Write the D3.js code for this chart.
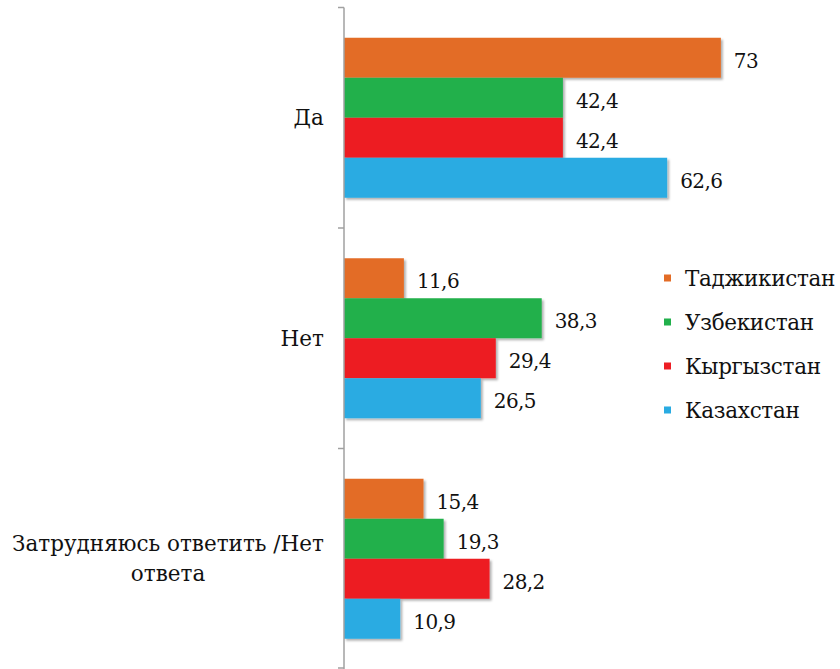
<!DOCTYPE html>
<html>
<head>
<meta charset="utf-8">
<script src="https://cdn.jsdelivr.net/npm/d3@7"></script>
<style>
  body { margin: 0; background: #fff; }
  svg text { font-family: "DejaVu Serif", serif; fill: #111; }
</style>
</head>
<body>
<div id="chart"></div>
<script>
// categories top to bottom
const categories = ['Да', 'Нет', 'Затрудняюсь ответить /Нет ответа'];
const categoryLines = [['Да'], ['Нет'], ['Затрудняюсь ответить /Нет', 'ответа']];
const seriesNames = ['Таджикистан', 'Узбекистан', 'Кыргызстан', 'Казахстан'];
const seriesColors = ['#e36c26', '#21b04b', '#ed1d24', '#29abe2'];

// values per series, in category order
const tajikistan = [73, 11.6, 15.4];
const uzbekistan = [42.4, 38.3, 19.3];
const kyrgyzstan = [42.4, 29.4, 28.2];
const kazakhstan = [62.6, 26.5, 10.9];
const seriesValues = [tajikistan, uzbekistan, kyrgyzstan, kazakhstan];

const width = 840, height = 669;
const svg = d3.select('#chart').append('svg')
  .attr('width', width)
  .attr('height', height);

const defs = svg.append('defs');
const shadow = defs.append('filter').attr('id', 'shadow')
  .attr('x', '-5%').attr('y', '-20%').attr('width', '115%').attr('height', '150%');
shadow.append('feDropShadow')
  .attr('dx', 2).attr('dy', 2).attr('stdDeviation', 1.3)
  .attr('flood-color', '#000').attr('flood-opacity', 0.3);

const x0 = 344;
const x = d3.scaleLinear().domain([0, 80]).range([x0, x0 + 413]);
const y = d3.scaleBand().domain(categories).range([7.5, 669]).paddingInner(0);
const yInner = d3.scaleBand().domain(d3.range(seriesNames.length))
  .range([0, 160]);
const groupOffset = (y.bandwidth() - 160) / 2;

const fmt = v => String(v).replace('.', ',');
const valueSize = 20;
const labelSize = 21.5;

// bars
categories.forEach((cat, ci) => {
  const g = svg.append('g')
    .attr('transform', `translate(0,${y(cat) + groupOffset})`);
  seriesValues.forEach((vals, si) => {
    g.append('rect')
      .attr('x', x(0))
      .attr('y', yInner(si))
      .attr('width', x(vals[ci]) - x(0))
      .attr('height', yInner.bandwidth())
      .attr('fill', seriesColors[si])
      .attr('filter', 'url(#shadow)');
    g.append('text')
      .attr('x', x(vals[ci]) + 13)
      .attr('y', yInner(si) + yInner.bandwidth() / 2 + 3)
      .attr('dy', '0.35em')
      .attr('font-size', valueSize)
      .attr('letter-spacing', -0.6)
      .text(fmt(vals[ci]));
  });
});

// axis
const axis = svg.append('g');
axis.append('line')
  .attr('x1', x0).attr('x2', x0)
  .attr('y1', y.range()[0]).attr('y2', y.range()[1])
  .attr('stroke', '#a0a0a0').attr('stroke-width', 1.5);
const tickYs = categories.map(c => y(c)).concat([y.range()[1] - 1]);
axis.selectAll('.tick').data(tickYs).enter().append('line')
  .attr('x1', x0 - 6).attr('x2', x0)
  .attr('y1', d => d).attr('y2', d => d)
  .attr('stroke', '#a0a0a0').attr('stroke-width', 1.5);

// category labels (right-aligned block, centered lines)
categories.forEach((cat, ci) => {
  const lines = categoryLines[ci];
  const cy = y(cat) + y.bandwidth() / 2;
  const t = svg.append('text')
    .attr('font-size', labelSize)
    .attr('text-anchor', 'middle');
  lines.forEach((ln, li) => {
    t.append('tspan')
      .attr('x', 0)
      .attr('y', cy + (li - (lines.length - 1) / 2) * 30)
      .attr('dy', '0.35em')
      .text(ln);
  });
  const w = t.node().getBBox().width;
  t.attr('transform', `translate(${324 - w / 2},0)`);
});

// legend
const legend = svg.append('g').attr('transform', 'translate(664,278)');
seriesNames.forEach((name, i) => {
  const row = legend.append('g').attr('transform', `translate(0,${i * 44})`);
  row.append('rect')
    .attr('x', 0).attr('y', -3.5)
    .attr('width', 7).attr('height', 7)
    .attr('fill', seriesColors[i]);
  row.append('text')
    .attr('x', 21).attr('y', 0).attr('dy', '0.35em')
    .attr('font-size', labelSize)
    .attr('letter-spacing', -0.3)
    .text(name);
});
</script>
</body>
</html>
